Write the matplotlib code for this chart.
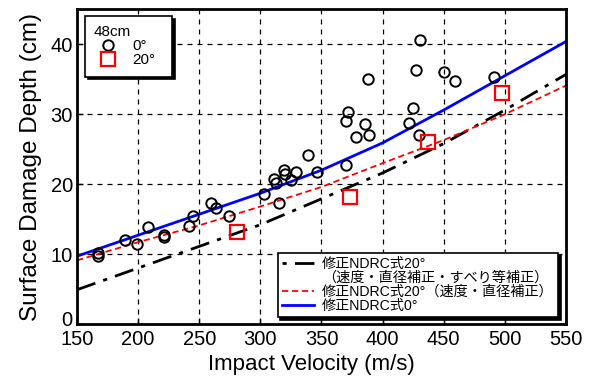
import matplotlib
matplotlib.use("Agg")
import matplotlib.pyplot as plt
from matplotlib.lines import Line2D
from matplotlib.transforms import ScaledTranslation

plt.rcParams['font.family'] = ['Liberation Sans', 'Noto Sans CJK JP', 'DejaVu Sans']

# measured points, 48cm target
v_0deg = [167, 167, 189, 199, 208, 221, 221, 242, 245, 260, 264, 274, 303, 311, 313,
          315, 319, 320, 325, 329, 339, 346, 370, 370, 372, 378, 386, 389, 388,
          422, 425, 430, 427, 431, 450, 459, 491]
d_0deg = [10.1, 9.7, 12.0, 11.4, 13.9, 12.7, 12.4, 14.0, 15.4, 17.3, 16.6, 15.4, 18.6, 20.7, 20.1,
          17.3, 22.0, 21.4, 20.6, 21.7, 24.1, 21.7, 22.7, 29.0, 30.3, 26.7, 28.6, 27.1, 35.0,
          28.7, 30.9, 27.1, 36.3, 40.6, 36.1, 34.7, 35.3]
v_20deg = [281, 373, 437, 498]
d_20deg = [13.1, 18.1, 26.0, 33.0]

# model curves
v_curve = [150, 200, 250, 300, 350, 400, 450, 500, 550]
ndrc_20_slip = [4.9, 8.0, 11.1, 14.2, 17.9, 21.6, 25.8, 30.6, 35.7]
ndrc_20 = [9.1, 11.7, 14.1, 16.8, 19.6, 23.0, 26.3, 30.0, 34.1]
ndrc_0 = [9.7, 12.7, 15.7, 18.7, 22.0, 25.9, 30.6, 35.5, 40.4]

fig = plt.figure(figsize=(5.95, 3.81), dpi=100)
ax = fig.add_axes([0.1294, 0.1496, 0.8218, 0.8259])

ax.plot(v_curve, ndrc_20_slip, color='black', lw=2, dashes=(7, 3, 1.5, 3))
ax.plot(v_curve, ndrc_20, color='red', lw=1.3, dashes=(3.5, 2))
ax.plot(v_curve, ndrc_0, color='blue', lw=2)
ax.plot(v_0deg, d_0deg, 'o', ms=7.5, mfc='none', mec='black', mew=1.4)
ax.plot(v_20deg, d_20deg, 's', ms=9.5, mfc='none', mec='red', mew=1.6)

ax.set_xlim(150, 550)
ax.set_ylim(0, 45)
ax.set_xticks(range(150, 551, 50))
ax.set_yticks([0, 10, 20, 30, 40])
ax.grid(True, color='black', lw=0.9, dashes=(4, 4))
ax.tick_params(direction='in', length=4, width=1, labelsize=14.5)
ax.tick_params(axis='y', pad=3)
ax.tick_params(axis='x', pad=4)
for s in ax.spines.values():
    s.set_linewidth(2)

# the "0" sits a bit higher, as in the original
lbl0 = ax.get_yticklabels()[0]
lbl0.set_transform(lbl0.get_transform() + ScaledTranslation(0, 4 / 72, fig.dpi_scale_trans))

ax.set_xlabel('Impact Velocity (m/s)', fontsize=16, labelpad=4, x=0.48)
ax.set_ylabel('Surface Damage Depth (cm)', fontsize=17.5, labelpad=6)

# legend for the marks
mk = [Line2D([], [], ls='none', marker='o', ms=7.5, mfc='none', mec='black', mew=1.4),
      Line2D([], [], ls='none', marker='s', ms=9.5, mfc='none', mec='red', mew=1.6)]
leg1 = ax.legend(mk, ['0°', '20°'], title='48cm', loc='upper left',
                 bbox_to_anchor=(0.016, 0.5, 0.178, 0.478), mode='expand',
                 fontsize=11, title_fontsize=11,
                 frameon=True, fancybox=False, edgecolor='black', framealpha=1,
                 shadow={'color': 'black', 'alpha': 1}, handlelength=1.8,
                 handletextpad=0.7, labelspacing=0.0, borderpad=0.6,
                 borderaxespad=0, alignment='left')
leg1.get_frame().set_linewidth(1.2)
ax.add_artist(leg1)

# legend for the curves
hs = [Line2D([], [], color='black', lw=2, dashes=(1.5, 3, 7, 3)),
      Line2D([], [], ls='none'),
      Line2D([], [], color='red', lw=1.3, dashes=(3.5, 2)),
      Line2D([], [], color='blue', lw=2)]
labels = ['修正NDRC式20°', '（速度・直径補正・すべり等補正）',
          '修正NDRC式20°（速度・直径補正）', '修正NDRC式0°']
leg2 = ax.legend(hs, labels, loc='lower right', bbox_to_anchor=(0.984, 0.022),
                 fontsize=10.2, frameon=True, fancybox=False, edgecolor='black',
                 framealpha=1, shadow={'color': 'black', 'alpha': 1},
                 handlelength=2.3, handletextpad=0.55, labelspacing=0.0,
                 borderpad=0.3, borderaxespad=0)
leg2.get_frame().set_linewidth(1.2)

fig.savefig('out.png', dpi=100)
